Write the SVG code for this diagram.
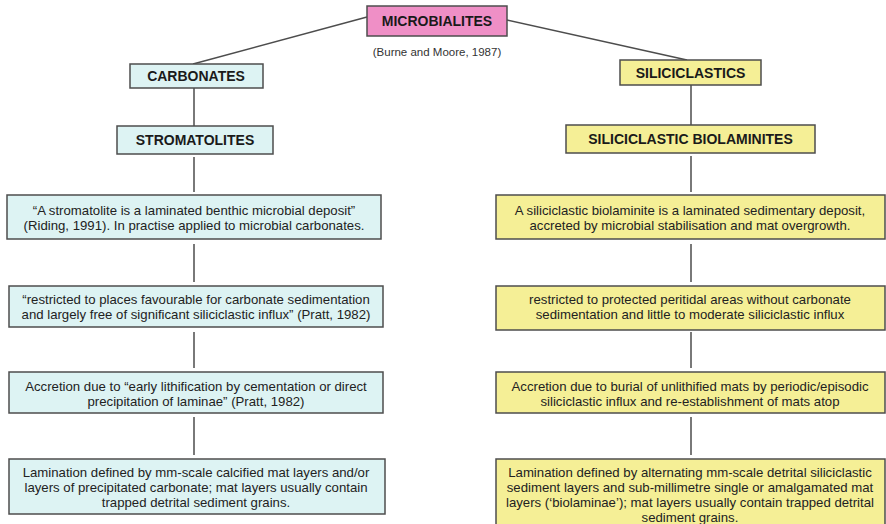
<svg xmlns="http://www.w3.org/2000/svg" width="886" height="524" viewBox="0 0 886 524">
  <style>
    .box { stroke: #4d4d4d; stroke-width: 1.5; }
    .pink { fill: #ef8fc6; }
    .cyan { fill: #ddf3f3; }
    .yellow { fill: #f5ef96; }
    .head { font-family: "Liberation Sans", Arial, sans-serif; font-weight: bold; font-size: 14px; fill: #1a1a1a; text-anchor: middle; }
    .body { font-family: "Liberation Sans", Arial, sans-serif; font-size: 13.2px; fill: #222; text-anchor: middle; }
    .cite { font-family: "Liberation Sans", Arial, sans-serif; font-size: 11.5px; fill: #333; text-anchor: middle; }
    .link { stroke: #4d4d4d; stroke-width: 1.5; fill: none; }
  </style>
  <rect width="886" height="524" fill="#ffffff"/>

  <!-- connectors -->
  <g id="connectors" class="link">
    <line x1="367" y1="17" x2="193" y2="64"/>
    <line x1="507" y1="20" x2="687" y2="60"/>
    <line x1="194" y1="88" x2="194" y2="126"/>
    <line x1="194" y1="157" x2="194" y2="192"/>
    <line x1="194" y1="244" x2="194" y2="282"/>
    <line x1="194" y1="332" x2="194" y2="368"/>
    <line x1="194" y1="417" x2="194" y2="455"/>
    <line x1="691" y1="85" x2="691" y2="125"/>
    <line x1="691" y1="156" x2="691" y2="192"/>
    <line x1="691" y1="244" x2="691" y2="282"/>
    <line x1="691" y1="332" x2="691" y2="368"/>
    <line x1="691" y1="417" x2="691" y2="455"/>
  </g>

  <!-- root -->
  <g id="microbialites">
    <rect class="box pink" x="367" y="6" width="140" height="30"/>
    <text class="head" x="437" y="26">MICROBIALITES</text>
    <text class="cite" x="437" y="56">(Burne and Moore, 1987)</text>
  </g>

  <!-- carbonate branch -->
  <g id="carbonates">
    <rect class="box cyan" x="130" y="64" width="133" height="24"/>
    <text class="head" x="196" y="81">CARBONATES</text>
  </g>
  <g id="stromatolites">
    <rect class="box cyan" x="117" y="126" width="156" height="28"/>
    <text class="head" x="195" y="145">STROMATOLITES</text>
  </g>
  <g id="strom-definition">
    <rect class="box cyan" x="7" y="195" width="374" height="44"/>
    <text class="body" x="194" y="214.5">“A stromatolite is a laminated benthic microbial deposit”</text>
    <text class="body" x="194" y="229.5">(Riding, 1991). In practise applied to microbial carbonates.</text>
  </g>
  <g id="strom-setting">
    <rect class="box cyan" x="9" y="286" width="374" height="41"/>
    <text class="body" x="196" y="303.5">“restricted to places favourable for carbonate sedimentation</text>
    <text class="body" x="196" y="318.5">and largely free of significant siliciclastic influx” (Pratt, 1982)</text>
  </g>
  <g id="strom-accretion">
    <rect class="box cyan" x="9" y="372" width="374" height="41"/>
    <text class="body" x="196" y="390.5">Accretion due to “early lithification by cementation or direct</text>
    <text class="body" x="196" y="405.5">precipitation of laminae” (Pratt, 1982)</text>
  </g>
  <g id="strom-lamination">
    <rect class="box cyan" x="9" y="459" width="376" height="55"/>
    <text class="body" x="196" y="477">Lamination defined by mm-scale calcified mat layers and/or</text>
    <text class="body" x="196" y="492">layers of precipitated carbonate; mat layers usually contain</text>
    <text class="body" x="196" y="507">trapped detrital sediment grains.</text>
  </g>

  <!-- siliciclastic branch -->
  <g id="siliciclastics">
    <rect class="box yellow" x="620" y="60" width="141" height="25"/>
    <text class="head" x="690.5" y="77.5">SILICICLASTICS</text>
  </g>
  <g id="biolaminites">
    <rect class="box yellow" x="566" y="125" width="249" height="28"/>
    <text class="head" x="690.5" y="144">SILICICLASTIC BIOLAMINITES</text>
  </g>
  <g id="bio-definition">
    <rect class="box yellow" x="496" y="195" width="389" height="44"/>
    <text class="body" x="690" y="214.5">A siliciclastic biolaminite is a laminated sedimentary deposit,</text>
    <text class="body" x="690" y="230">accreted by microbial stabilisation and mat overgrowth.</text>
  </g>
  <g id="bio-setting">
    <rect class="box yellow" x="496" y="286" width="389" height="44"/>
    <text class="body" x="690" y="303.5">restricted to protected peritidal areas without carbonate</text>
    <text class="body" x="690" y="318.5">sedimentation and little to moderate siliciclastic influx</text>
  </g>
  <g id="bio-accretion">
    <rect class="box yellow" x="496" y="372" width="389" height="41"/>
    <text class="body" x="690" y="390.5">Accretion due to burial of unlithified mats by periodic/episodic</text>
    <text class="body" x="690" y="405.5">siliciclastic influx and re-establishment of mats atop</text>
  </g>
  <g id="bio-lamination">
    <rect class="box yellow" x="496" y="459" width="389" height="75"/>
    <text class="body" x="690" y="476.5">Lamination defined by alternating mm-scale detrital siliciclastic</text>
    <text class="body" x="690" y="491.5">sediment layers and sub-millimetre single or amalgamated mat</text>
    <text class="body" x="690" y="506.5">layers (‘biolaminae’); mat layers usually contain trapped detrital</text>
    <text class="body" x="690" y="521.5">sediment grains.</text>
  </g>
</svg>
